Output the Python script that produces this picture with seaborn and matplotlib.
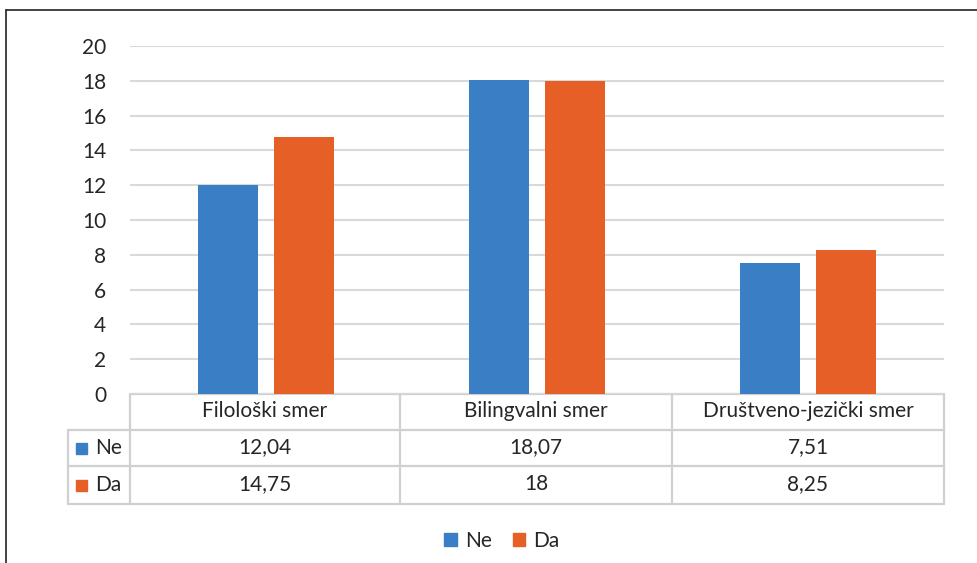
import matplotlib
matplotlib.use("Agg")
import matplotlib.pyplot as plt
import matplotlib.patches as mpatches
import seaborn as sns
import pandas as pd

# data
categories = ["Filološki smer", "Bilingvalni smer", "Društveno-jezički smer"]
series = ["Ne", "Da"]
ne_values = [12.04, 18.07, 7.51]
da_values = [14.75, 18.0, 8.25]
y_ticks = [0, 2, 4, 6, 8, 10, 12, 14, 16, 18, 20]

colors = ["#3A7EC6", "#E65F27"]
grid_col = "#D9D9D9"
line_col = "#D0D0D0"
text_col = "#262626"

df = pd.DataFrame({
    "smer": categories * 2,
    "odgovor": ["Ne"] * 3 + ["Da"] * 3,
    "vrednost": ne_values + da_values,
})

sns.set_style("white")
plt.rcParams["font.family"] = ["Lato", "DejaVu Sans"]
fs = 15

W, H = 977, 563
fig = plt.figure(figsize=(W / 100, H / 100), dpi=100)

# pixel-coordinate overlay for frame, table and legend
over = fig.add_axes([0, 0, 1, 1])
over.set_xlim(0, W)
over.set_ylim(H, 0)
over.axis("off")

# bar area
x0, x1, yb, yt = 130, 944, 394, 46
ax = fig.add_axes([x0 / W, 1 - yb / H, (x1 - x0) / W, (yb - yt) / H])
sns.barplot(data=df, x="smer", y="vrednost", hue="odgovor", hue_order=series,
            palette=colors, width=0.56, gap=0.21, ax=ax, legend=False,
            saturation=1, edgecolor="none")
ax.set_ylim(0, 20)
ax.set_xlim(-0.5, 2.5)
ax.set_yticks(y_ticks)
ax.set_yticklabels([str(t) for t in y_ticks], fontsize=fs, color=text_col)
ax.tick_params(axis="y", length=0, pad=17)
ax.set_xticks([])
ax.set_xlabel("")
ax.set_ylabel("")
for s in ax.spines.values():
    s.set_visible(False)
ax.yaxis.grid(True, color=grid_col, lw=1.5)
ax.set_axisbelow(True)
ax.patch.set_alpha(0)

# outer frame
over.plot([6, W], [10, 10], color="#222222", lw=1.2)
over.plot([6, 6], [10, H], color="#222222", lw=1.2)

# data table
col_edges = [130, 400, 672, 944]
row_edges = [394, 430, 466, 504]
lw = 1.6
over.plot([130, 944], [394, 394], color=line_col, lw=lw)
for yy in row_edges[1:]:
    over.plot([68, 944], [yy, yy], color=line_col, lw=lw)
for xx in col_edges:
    over.plot([xx, xx], [394, 504], color=line_col, lw=lw)
over.plot([68, 68], [430, 504], color=line_col, lw=lw)

for i, cat in enumerate(categories):
    cx = (col_edges[i] + col_edges[i + 1]) / 2
    over.text(cx, 411, cat, ha="center", va="center", fontsize=fs, color=text_col)
    for r, vals in enumerate([ne_values, da_values]):
        txt = f"{vals[i]:g}".replace(".", ",")
        over.text(cx, 447 + r * 37, txt, ha="center", va="center", fontsize=fs, color=text_col)

for r, name in enumerate(series):
    cy = 448 + r * 37
    over.add_patch(mpatches.Rectangle((76, cy - 5), 11, 11, color=colors[r]))
    over.text(95, cy, name, ha="left", va="center", fontsize=fs, color=text_col)

# bottom legend
handles = [mpatches.Patch(color=c, label=n) for c, n in zip(colors, series)]
fig.legend(handles=handles, loc="center", bbox_to_anchor=(502 / W, 1 - 541 / H),
           ncol=2, frameon=False, fontsize=fs, handlelength=0.6, handleheight=0.6,
           handletextpad=0.4, columnspacing=1.0, labelcolor=text_col)

fig.savefig("out.png", dpi=100)
